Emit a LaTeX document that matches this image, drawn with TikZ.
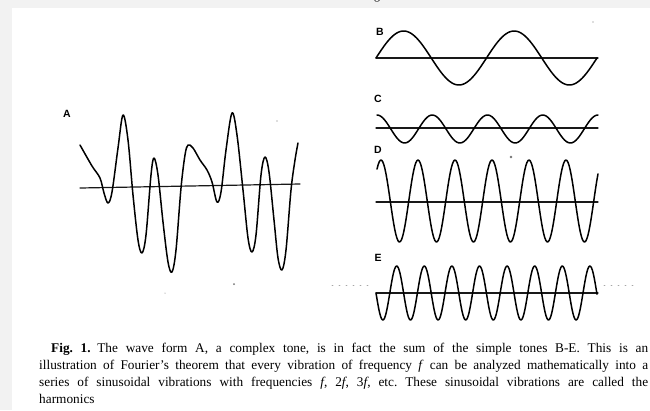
\documentclass[tikz,border=0pt]{standalone}
\usepackage{fontspec}
\setmainfont{Liberation Serif}
\newfontfamily\labelfont{Liberation Sans}
\usepackage{tikz}

\begin{document}
\begin{tikzpicture}[x=1pt, y=-1pt, line join=round, line cap=round,
    wave/.style={black, line width=1.5pt},
    axisline/.style={black!90, line width=1.2pt},
    wavelabel/.style={font=\labelfont\bfseries\fontsize{10.5}{12}\selectfont, inner sep=0pt},
    speck/.style={fill=black!55},
    speckline/.style={black!35, line width=0.9pt, dash pattern=on 1pt off 6pt}]

    % Define custom colors to match the scan
    \definecolor{scangray}{RGB}{242, 242, 242}

    % =======================================================
    % PAGE
    % =======================================================
    \useasboundingbox (0,0) rectangle (650,410);
    \fill[scangray] (0,0) rectangle (650,410);
    \fill[white] (12,8) rectangle (650,410);
    \begin{scope}
        \clip (0,0) rectangle (650,8);
        \node[font=\fontsize{12}{14}\selectfont, inner sep=0pt, anchor=base] (gfrag) at (377,-1) {g};
    \end{scope}

    % =======================================================
    % LEFT: COMPLEX TONE A
    % =======================================================
    % 1. Axis
    \draw[axisline] (80,188) -- (300,184);

    % 2. Wave form
    \draw[wave] plot[smooth, tension=0.55] coordinates {
        (80,145) (92,166) (100,178) (104,193) (108,203) (112,192)
        (118,148) (123,115) (128,140) (133,195) (138,240) (142,253)
        (146,235) (151,175) (154,158) (158,175) (163,222) (168,262)
        (172,272) (176,250) (181,188) (185,155) (188,145) (193,148)
        (200,160) (207,170) (212,182) (217,202) (221,192) (226,150)
        (232,113) (237,135) (243,190) (248,238) (252,252) (256,235)
        (261,175) (265,157) (269,172) (274,220) (278,258) (282,270)
        (286,250) (291,190) (295,160) (298,143)};

    \node[wavelabel] (labA) at (67,114) {A};

    % =======================================================
    % RIGHT: SIMPLE TONES B-E
    % =======================================================
    % 1. Axes
    \draw[axisline] (376,58) -- (598,58);
    \draw[axisline] (376,128) -- (598,128);
    \draw[axisline] (376,202) -- (598,202);
    \draw[axisline] (376,293) -- (598,293);

    % 2. Sinusoids, frequencies f, 2f, 3f, 4f
    \draw[wave] plot[domain=376:597, samples=120] (\x, {58-27*sin((\x-376)/110.5*360)});
    \draw[wave] plot[domain=377:598, samples=120] (\x, {129-14*cos((\x-377)/55.25*360)});
    \draw[wave] plot[domain=377:598, samples=200] (\x, {201-41*cos((\x-381)/37*360)});
    \draw[wave] plot[domain=376:597, samples=240] (\x, {293+27*sin((\x-376)/27.6*360)});

    % 3. Labels
    \node[wavelabel] (labB) at (380,32) {B};
    \node[wavelabel] (labC) at (378,99) {C};
    \node[wavelabel] (labD) at (378,150) {D};
    \node[wavelabel] (labE) at (378,258) {E};

    % 4. Specks of the scan
    \fill[speck] (511,157) circle (1.4pt);
    \fill[speck] (277,121) circle (0.6pt);
    \fill[speck] (593,22) circle (0.6pt);
    \fill[speck] (234,284) circle (1pt);
    \fill[speck] (165,293) circle (0.5pt);
    \draw[speckline] (332,285) -- (368,285);
    \draw[speckline] (604,285) -- (636,285);

    % =======================================================
    % CAPTION
    % =======================================================
    \node[anchor=north west, inner sep=0pt, text width=609pt, align=justify,
          font=\fontsize{13.3}{17}\selectfont\frenchspacing] (caption) at (39,343)
        {\hspace*{12pt}\textbf{Fig.~1.}\enspace The wave form A, a complex tone, is in fact the sum of the simple tones B-E. This is an\linebreak
         illustration of Fourier’s theorem that every vibration of frequency \textit{f} can be analyzed mathematically into a\linebreak
         series of sinusoidal vibrations with frequencies \textit{f}, 2\textit{f}, 3\textit{f}, etc. These sinusoidal vibrations are called the\linebreak
         harmonics};

\end{tikzpicture}
\end{document}
